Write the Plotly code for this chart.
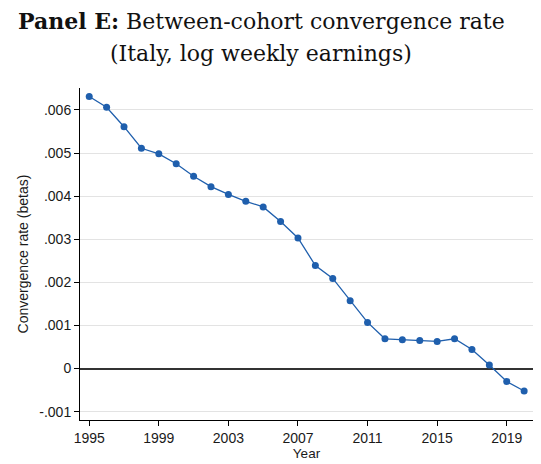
import plotly.graph_objects as go

years = list(range(1995, 2021))
betas = [0.00631, 0.00606, 0.00561, 0.00511, 0.00498, 0.00475, 0.00446, 0.00422,
         0.00404, 0.00388, 0.00375, 0.00341, 0.00303, 0.00239, 0.00209, 0.00157,
         0.00107, 0.00069, 0.00067, 0.00065, 0.00063, 0.00069, 0.00044, 0.00008,
         -0.00030, -0.00052]

y_tickvals = [-0.001, 0, 0.001, 0.002, 0.003, 0.004, 0.005, 0.006]
y_ticktext = ["-.001", "0", ".001", ".002", ".003", ".004", ".005", ".006"]
x_tickvals = [1995, 1999, 2003, 2007, 2011, 2015, 2019]

title_line1 = "<b>Panel E:</b> Between-cohort convergence rate"
title_line2 = "(Italy, log weekly earnings)"

color = "#1f5fad"

fig = go.Figure()
fig.add_trace(go.Scatter(
    x=years, y=betas, mode="lines+markers",
    line=dict(color=color, width=1.3),
    marker=dict(color=color, size=7),
    showlegend=False,
))

fig.update_layout(
    width=533, height=456,
    margin=dict(l=72, r=8, t=80, b=42),
    paper_bgcolor="white", plot_bgcolor="white",
    font=dict(family="Liberation Sans, Arial, sans-serif", color="#1a1a1a", size=14),
    annotations=[
        dict(text=title_line1, x=0.3996, y=1.2008, xref="paper", yref="paper",
             xanchor="center", yanchor="middle", showarrow=False,
             font=dict(family="DejaVu Serif", size=22, color="#111")),
        dict(text=title_line2, x=0.3996, y=1.105, xref="paper", yref="paper",
             xanchor="center", yanchor="middle", showarrow=False,
             font=dict(family="DejaVu Serif", size=22, color="#111")),
    ],
)

fig.update_xaxes(
    range=[1994.47, 2020.51], tickvals=x_tickvals,
    showline=True, linecolor="#000", linewidth=1,
    ticks="outside", ticklen=5, tickcolor="#000",
    showgrid=False, zeroline=False,
    title=dict(text="Year", font=dict(size=13.5), standoff=1),
    tickfont=dict(size=14),
)
fig.update_yaxes(
    range=[-0.001194, 0.006508], tickvals=y_tickvals, ticktext=y_ticktext,
    showline=True, linecolor="#000", linewidth=1,
    ticks="outside", ticklen=5, tickcolor="#000",
    showgrid=True, gridcolor="#e3e3e3", gridwidth=1,
    zeroline=True, zerolinecolor="#333", zerolinewidth=1.5,
    title=dict(text="Convergence rate (betas)", font=dict(size=14), standoff=7),
    tickfont=dict(size=14),
)

fig.write_html("out.html")
